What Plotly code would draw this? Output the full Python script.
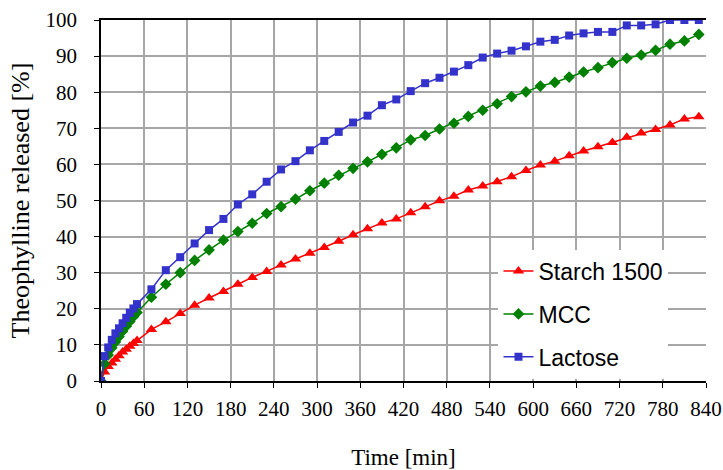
import plotly.graph_objects as go

time_min = [0, 5, 10, 15, 20, 25, 30, 35, 40, 45, 50,
            70, 90, 110, 130, 150, 170, 190, 210, 230, 250, 270, 290, 310, 330, 350, 370,
            390, 410, 430, 450, 470, 490, 510, 530, 550, 570, 590, 610, 630, 650, 670,
            690, 710, 730, 750, 770, 790, 810, 830]

starch_1500 = [0, 2.5, 4.0, 5.0, 6.0, 7.0, 8.0, 8.8, 9.6, 10.4, 11.2,
               14.3, 16.4, 18.7, 21.0, 23.0, 24.8, 26.8, 28.7, 30.3, 32.1, 33.8, 35.4, 37.0, 38.7, 40.5, 42.2,
               43.8, 44.9, 46.6, 48.3, 49.9, 51.2, 52.9, 54.0, 55.2, 56.6, 58.3, 59.8, 60.9, 62.4, 63.7,
               64.9, 66.1, 67.5, 68.7, 69.7, 70.9, 72.6, 73.2]

mcc = [0, 4.8, 7.2, 9.2, 10.8, 12.3, 13.8, 15.2, 16.5, 17.8, 19.0,
       23.2, 26.8, 30.0, 33.4, 36.3, 39.0, 41.4, 43.7, 46.4, 48.3, 50.4, 52.7, 54.8, 57.0, 58.9, 60.7,
       62.8, 64.6, 66.8, 68.0, 69.8, 71.4, 73.3, 75.0, 76.8, 78.8, 80.1, 81.7, 82.7, 84.2, 85.6,
       86.8, 88.2, 89.4, 90.3, 91.6, 93.3, 94.2, 96.0]

lactose = [0, 6.9, 9.3, 11.4, 13.2, 14.6, 16.0, 17.5, 18.9, 20.1, 21.3,
           25.4, 30.7, 34.3, 38.1, 41.8, 44.9, 48.9, 51.7, 55.2, 58.6, 60.9, 63.9, 66.5, 69.0, 71.6, 73.5,
           76.4, 78.0, 80.3, 82.5, 84.0, 85.7, 87.5, 89.6, 90.7, 91.5, 92.7, 94.0, 94.5, 95.7, 96.3,
           96.7, 96.7, 98.5, 98.5, 98.8, 100.0, 100.0, 100.0]

x_ticks = list(range(0, 841, 60))
y_ticks = list(range(0, 101, 10))

series = [
    ("Starch 1500", starch_1500, "#FF0000", "triangle-up", 10),
    ("MCC", mcc, "#008000", "diamond", 9),
    ("Lactose", lactose, "#3333CC", "square", 8),
]

fig = go.Figure()
for i, (name, vals, color, sym, msize) in enumerate(series):
    fig.add_trace(go.Scatter(
        x=time_min, y=vals, name=name, mode="lines+markers",
        line=dict(color=color, width=1.5),
        marker=dict(color=color, symbol=sym, size=msize, line=dict(width=0)),
        legendgroup=f"g{i}",
    ))

serif = "Times New Roman, Liberation Serif, serif"
sans = "Arial, Liberation Sans, sans-serif"

tick_font = dict(family=serif, size=21, color="black")


def serif_label(v):
    return "<span style='font-family:Liberation Serif, Times New Roman, serif'>%d</span>" % v


fig.update_layout(
    template="none",
    width=723, height=470,
    margin=dict(l=101, r=17, t=20, b=89),
    font=dict(family=serif, size=21, color="black"),
    paper_bgcolor="white", plot_bgcolor="white",
    showlegend=True,
    legend=dict(
        x=0.657, y=0.364, xanchor="left", yanchor="top",
        bgcolor="white", borderwidth=0,
        font=dict(family=sans, size=23, color="black"),
        tracegroupgap=10, traceorder="grouped",
        itemwidth=30,
    ),
    xaxis=dict(
        range=[0, 840], tickmode="array", tickvals=x_ticks, ticktext=[serif_label(v) for v in x_ticks],
        showgrid=True, gridcolor="#A6A6A6", gridwidth=1.5,
        showline=True, linecolor="black", linewidth=1.5, mirror=True,
        ticks="outside", ticklen=5, tickcolor="black", tickwidth=1,
        ticklabelstandoff=3,
        tickfont=tick_font,
        title=dict(text="Time [min]", font=dict(family=serif, size=23, color="black"), standoff=33),
        zeroline=False, automargin=False,
    ),
    yaxis=dict(
        range=[0, 100], tickmode="array", tickvals=y_ticks, ticktext=[serif_label(v) for v in y_ticks],
        showgrid=True, gridcolor="#A6A6A6", gridwidth=1.5,
        showline=True, linecolor="black", linewidth=1.5,
        ticks="outside", ticklen=5, tickcolor="black", tickwidth=1,
        ticklabelstandoff=13,
        tickfont=tick_font,
        title=dict(text="Theophylline released [%]", font=dict(family=serif, size=26, color="black"), standoff=8),
        zeroline=False, automargin=False,
    ),
)

fig.write_html(
    "out.html",
    config={"displayModeBar": False},
    post_script="document.body.style.margin='0';document.body.style.overflow='hidden';",
)
